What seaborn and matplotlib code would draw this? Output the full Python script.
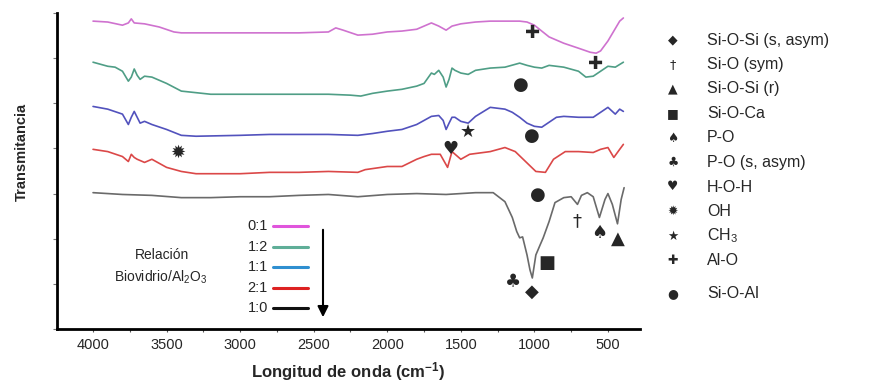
import numpy as np
import pandas as pd
import matplotlib
matplotlib.use("Agg")
import matplotlib.pyplot as plt
from matplotlib.lines import Line2D
import seaborn as sns

sns.set_style("white")
plt.rcParams["font.family"] = ["Liberation Sans", "DejaVu Sans"]
plt.rcParams["mathtext.fontset"] = "custom"
plt.rcParams["mathtext.rm"] = "Liberation Sans"
plt.rcParams["mathtext.bf"] = "Liberation Sans:bold"
plt.rcParams["mathtext.default"] = "regular"

# ── DATA ───────────────────────────────────────────────────
ratios = ["0:1", "1:2", "1:1", "2:1", "1:0"]

wn_01 = [4000, 3900, 3800, 3760, 3740, 3720, 3650, 3550, 3450, 3400, 3200, 3000, 2800, 2600,
         2400, 2350, 2300, 2200, 2100, 2000, 1900, 1800, 1750, 1700, 1650, 1600, 1560, 1500,
         1400, 1300, 1200, 1100, 1050, 1000, 950, 900, 800, 700, 620, 580, 550, 500, 460, 420, 395]
t_01 = [6.82, 6.80, 6.73, 6.78, 6.87, 6.78, 6.76, 6.69, 6.58, 6.56, 6.56, 6.56, 6.56, 6.56,
        6.58, 6.67, 6.62, 6.51, 6.53, 6.58, 6.60, 6.64, 6.71, 6.78, 6.71, 6.62, 6.71, 6.76,
        6.80, 6.82, 6.82, 6.82, 6.80, 6.73, 6.60, 6.47, 6.33, 6.22, 6.13, 6.11, 6.16, 6.38, 6.60, 6.82, 6.89]

wn_12 = [4000, 3900, 3850, 3800, 3760, 3740, 3720, 3700, 3680, 3650, 3600, 3500, 3400, 3200,
         3000, 2800, 2600, 2400, 2250, 2180, 2100, 2000, 1900, 1800, 1750, 1700, 1680, 1650,
         1620, 1600, 1580, 1560, 1540, 1500, 1450, 1400, 1300, 1200, 1100, 1050, 1000, 950,
         900, 800, 700, 650, 600, 550, 500, 450, 395]
t_12 = [5.91, 5.82, 5.80, 5.71, 5.49, 5.58, 5.76, 5.62, 5.53, 5.60, 5.58, 5.44, 5.27, 5.20,
        5.20, 5.20, 5.20, 5.20, 5.18, 5.16, 5.22, 5.27, 5.31, 5.38, 5.44, 5.67, 5.64, 5.73,
        5.58, 5.36, 5.53, 5.78, 5.73, 5.67, 5.64, 5.73, 5.78, 5.80, 5.89, 5.84, 5.80, 5.78,
        5.84, 5.80, 5.71, 5.58, 5.60, 5.71, 5.82, 5.80, 5.91]

wn_11 = [4000, 3900, 3800, 3760, 3740, 3720, 3700, 3680, 3650, 3600, 3500, 3400, 3300, 3000,
         2800, 2600, 2400, 2200, 2150, 2100, 2000, 1900, 1800, 1750, 1700, 1650, 1620, 1600,
         1580, 1560, 1540, 1500, 1450, 1400, 1300, 1200, 1150, 1100, 1050, 1000, 950, 900,
         850, 800, 700, 600, 550, 500, 450, 420, 395]
t_11 = [4.93, 4.87, 4.76, 4.53, 4.69, 4.82, 4.69, 4.56, 4.60, 4.53, 4.42, 4.29, 4.27, 4.29,
        4.31, 4.31, 4.31, 4.29, 4.31, 4.33, 4.38, 4.42, 4.53, 4.62, 4.71, 4.73, 4.62, 4.42,
        4.56, 4.69, 4.69, 4.60, 4.56, 4.71, 4.91, 4.87, 4.80, 4.69, 4.56, 4.49, 4.47, 4.58,
        4.69, 4.71, 4.69, 4.69, 4.80, 4.91, 4.76, 4.87, 4.82]

wn_21 = [4000, 3900, 3800, 3760, 3740, 3720, 3700, 3650, 3600, 3550, 3500, 3400, 3300, 3000,
         2800, 2600, 2400, 2200, 2150, 2000, 1900, 1800, 1750, 1700, 1640, 1590, 1560, 1500,
         1440, 1300, 1200, 1130, 1060, 990, 925, 870, 790, 700, 600, 550, 500, 460, 420, 395]
t_21 = [3.98, 3.93, 3.82, 3.71, 3.87, 3.80, 3.76, 3.69, 3.76, 3.67, 3.58, 3.49, 3.44, 3.44,
        3.47, 3.47, 3.49, 3.47, 3.53, 3.60, 3.60, 3.76, 3.82, 3.87, 3.87, 3.58, 3.93, 3.76,
        3.87, 3.93, 4.02, 3.93, 3.71, 3.49, 3.47, 3.76, 3.93, 3.93, 3.91, 3.98, 4.02, 3.80, 3.98, 4.09]

wn_10 = [4000, 3800, 3600, 3400, 3200, 3000, 2800, 2600, 2400, 2200, 2000, 1800, 1600, 1400,
         1280, 1200, 1150, 1120, 1100, 1080, 1050, 1030, 1014, 990, 960, 940, 900, 860, 800,
         750, 707, 680, 640, 600, 558, 520, 500, 470, 435, 410, 390]
t_10 = [3.02, 2.98, 2.96, 2.91, 2.91, 2.93, 2.93, 2.96, 2.98, 2.93, 2.98, 3.00, 2.98, 3.02,
        3.02, 2.82, 2.47, 2.16, 2.02, 2.04, 1.64, 1.31, 1.13, 1.64, 1.87, 2.02, 2.38, 2.80,
        2.91, 2.93, 2.76, 2.96, 3.02, 2.93, 2.47, 2.87, 3.00, 2.76, 2.33, 2.87, 3.13]

# band assignments: symbol, label
band_symbols = ["◆", "†", "▲", "■", "♠", "♣", "♥", "✹", "★", "✚", "●"]
band_labels = ["Si-O-Si (s, asym)", "Si-O (sym)", "Si-O-Si (r)", "Si-O-Ca", "P-O",
               "P-O (s, asym)", "H-O-H", "OH", "CH$_3$", "Al-O", "Si-O-Al"]

# peak markers placed on the spectra
peak_sym = ["✚", "✚", "●", "★", "●", "♥", "✹", "●", "†", "♠", "▲", "■", "♣", "◆"]
peak_wn = [1014, 585, 1095, 1449, 1014, 1571, 3422, 973, 707, 558, 435, 912, 1143, 1014]
peak_t = [6.56, 5.87, 5.40, 4.36, 4.27, 3.98, 3.91, 2.96, 2.38, 2.13, 2.00, 1.47, 1.04, 0.82]

curve_colors = {"0:1": "#cf72cf", "1:2": "#4f9e86", "1:1": "#5252bd", "2:1": "#db4848", "1:0": "#6a6a6a"}
key_colors = ["#e055dc", "#5fae98", "#2f8fd0", "#dd2222", "#111111"]

df = pd.concat([
    pd.DataFrame({"wn": w, "T": t, "ratio": r})
    for w, t, r in zip([wn_01, wn_12, wn_11, wn_21, wn_10], [t_01, t_12, t_11, t_21, t_10], ratios)
])

# ── PLOT ───────────────────────────────────────────────────
W, H = 875, 383
fig = plt.figure(figsize=(W / 100, H / 100), dpi=100)
ax = fig.add_axes([57 / W, 1 - 329 / H, (640 - 57) / W, (329 - 13) / H])

sns.lineplot(data=df, x="wn", y="T", hue="ratio", palette=curve_colors,
             linewidth=1.2, legend=False, ax=ax, sort=False)

ax.set_xlim(4245, 282)
ax.set_ylim(0, 7)
ax.set_xticks(np.arange(4000, 499, -500))
ax.set_xticks(np.arange(3750, 499, -500), minor=True)
ax.set_yticks(np.arange(0, 8, 1))
ax.set_yticklabels([])
ax.tick_params(axis="x", which="both", direction="out", length=2.5, width=0.8,
               color="#555555", labelsize=10.5, pad=4, bottom=True)
ax.tick_params(axis="y", direction="out", length=3, width=0.8, color="#777777", left=True)
for s in ["top", "right"]:
    ax.spines[s].set_visible(False)
for s in ["left", "bottom"]:
    ax.spines[s].set_linewidth(2.0)
    ax.spines[s].set_color("black")

ax.set_xlabel(r"Longitud de onda (cm$\mathbf{^{-1}}$)", fontsize=12, fontweight="bold", labelpad=6)
ax.set_ylabel("")
fig.text(22 / W, 1 - 152 / H, "Transmitancia", rotation=90, fontsize=10.5,
         fontweight="bold", ha="center", va="center")

# band symbols on spectra
for s, w, t in zip(peak_sym, peak_wn, peak_t):
    ax.text(w, t, s, fontsize=13, family="DejaVu Sans", ha="center", va="center")


def fpos(x, y):
    return x / W, 1 - y / H


# ratio key inside the plot
for i, (r, c) in enumerate(zip(ratios, key_colors)):
    y = 226 + 20.5 * i
    fig.text(*fpos(268, y), r, fontsize=10.5, ha="right", va="center")
    fig.add_artist(Line2D([273 / W, 308 / W], [1 - y / H, 1 - y / H], color=c, lw=2.2))
fig.text(*fpos(162, 255), "Relación", fontsize=10, ha="center", va="center")
fig.text(*fpos(161, 277), "Biovidrio/Al$_2$O$_3$", fontsize=10, ha="center", va="center")
ax.annotate("", xy=fpos(323, 320), xytext=fpos(323, 227), xycoords="figure fraction",
            textcoords="figure fraction",
            arrowprops=dict(arrowstyle="-|>", color="black", lw=1.5, mutation_scale=16))

# band assignment key on the right
for i, (s, lab) in enumerate(zip(band_symbols, band_labels)):
    y = 40 + 24.5 * i if i < 10 else 294
    fig.text(*fpos(673, y), s, fontsize=9, family="DejaVu Sans", ha="center", va="center")
    fig.text(*fpos(707, y), lab, fontsize=11.5, ha="left", va="center")

fig.savefig("out.png", dpi=100)
